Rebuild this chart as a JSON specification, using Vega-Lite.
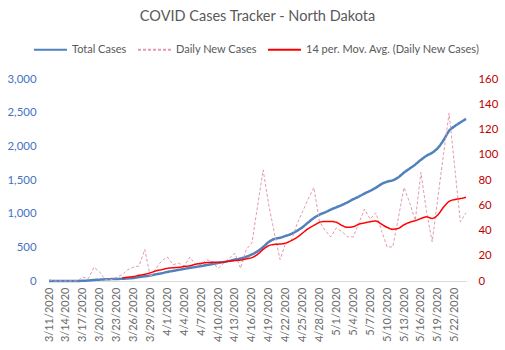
{
  "$schema": "https://vega.github.io/schema/vega-lite/v6.json",
  "width": 417,
  "height": 202,
  "autosize": {"type": "none"},
  "padding": {"left": 49, "top": 79, "right": 39, "bottom": 69},
  "background": "white",
  "title": {"text": "COVID Cases Tracker - North Dakota", "font": "Lato", "fontSize": 14.5, "fontWeight": "normal", "color": "#595959", "anchor": "middle", "offset": 8},
  "config": {"view": {"stroke": null}, "font": "Lato"},
  "data": {"values": [
    {"date": "3/11/2020", "total": 1, "daily": 1, "ma": null},
    {"date": "3/12/2020", "total": 1, "daily": 0, "ma": null},
    {"date": "3/13/2020", "total": 1, "daily": 0, "ma": null},
    {"date": "3/14/2020", "total": 1, "daily": 0, "ma": null},
    {"date": "3/15/2020", "total": 1, "daily": 0, "ma": null},
    {"date": "3/16/2020", "total": 1, "daily": 0, "ma": null},
    {"date": "3/17/2020", "total": 3, "daily": 3, "ma": null},
    {"date": "3/18/2020", "total": 8, "daily": 2, "ma": null},
    {"date": "3/19/2020", "total": 15, "daily": 11, "ma": null},
    {"date": "3/20/2020", "total": 20, "daily": 7, "ma": null},
    {"date": "3/21/2020", "total": 25, "daily": 1, "ma": null},
    {"date": "3/22/2020", "total": 28, "daily": 1, "ma": null},
    {"date": "3/23/2020", "total": 30, "daily": 3, "ma": null},
    {"date": "3/24/2020", "total": 33, "daily": 5, "ma": 2.4},
    {"date": "3/25/2020", "total": 38, "daily": 9, "ma": 3},
    {"date": "3/26/2020", "total": 45, "daily": 11, "ma": 3.5},
    {"date": "3/27/2020", "total": 58, "daily": 12, "ma": 4.5},
    {"date": "3/28/2020", "total": 70, "daily": 25, "ma": 5.3},
    {"date": "3/29/2020", "total": 82, "daily": 3, "ma": 6.5},
    {"date": "3/30/2020", "total": 100, "daily": 10, "ma": 8},
    {"date": "3/31/2020", "total": 115, "daily": 16, "ma": 9},
    {"date": "4/1/2020", "total": 135, "daily": 19, "ma": 10},
    {"date": "4/2/2020", "total": 150, "daily": 13, "ma": 10.5},
    {"date": "4/3/2020", "total": 165, "daily": 14, "ma": 10.8},
    {"date": "4/4/2020", "total": 180, "daily": 12, "ma": 11.5},
    {"date": "4/5/2020", "total": 195, "daily": 19, "ma": 12},
    {"date": "4/6/2020", "total": 208, "daily": 13, "ma": 13.3},
    {"date": "4/7/2020", "total": 222, "daily": 13, "ma": 14},
    {"date": "4/8/2020", "total": 237, "daily": 17, "ma": 14.6},
    {"date": "4/9/2020", "total": 252, "daily": 15, "ma": 14.8},
    {"date": "4/10/2020", "total": 268, "daily": 10, "ma": 14.8},
    {"date": "4/11/2020", "total": 282, "daily": 14, "ma": 15},
    {"date": "4/12/2020", "total": 298, "daily": 18, "ma": 15.8},
    {"date": "4/13/2020", "total": 318, "daily": 22, "ma": 16.2},
    {"date": "4/14/2020", "total": 335, "daily": 10, "ma": 16.6},
    {"date": "4/15/2020", "total": 360, "daily": 25, "ma": 17.5},
    {"date": "4/16/2020", "total": 395, "daily": 30, "ma": 18.5},
    {"date": "4/17/2020", "total": 440, "daily": 59, "ma": 21},
    {"date": "4/18/2020", "total": 505, "daily": 88, "ma": 25},
    {"date": "4/19/2020", "total": 580, "daily": 60, "ma": 28},
    {"date": "4/20/2020", "total": 625, "daily": 38, "ma": 29},
    {"date": "4/21/2020", "total": 642, "daily": 17, "ma": 29.3},
    {"date": "4/22/2020", "total": 670, "daily": 30, "ma": 30},
    {"date": "4/23/2020", "total": 700, "daily": 32, "ma": 32},
    {"date": "4/24/2020", "total": 745, "daily": 45, "ma": 34.5},
    {"date": "4/25/2020", "total": 800, "daily": 55, "ma": 38},
    {"date": "4/26/2020", "total": 870, "daily": 65, "ma": 41.5},
    {"date": "4/27/2020", "total": 935, "daily": 74, "ma": 44},
    {"date": "4/28/2020", "total": 985, "daily": 47, "ma": 46.5},
    {"date": "4/29/2020", "total": 1020, "daily": 40, "ma": 47.2},
    {"date": "4/30/2020", "total": 1060, "daily": 35, "ma": 47.2},
    {"date": "5/1/2020", "total": 1095, "daily": 42, "ma": 46.5},
    {"date": "5/2/2020", "total": 1130, "daily": 39, "ma": 44},
    {"date": "5/3/2020", "total": 1170, "daily": 35, "ma": 42.5},
    {"date": "5/4/2020", "total": 1215, "daily": 35, "ma": 43},
    {"date": "5/5/2020", "total": 1255, "daily": 46, "ma": 45},
    {"date": "5/6/2020", "total": 1300, "daily": 57, "ma": 46},
    {"date": "5/7/2020", "total": 1340, "daily": 49, "ma": 47},
    {"date": "5/8/2020", "total": 1385, "daily": 54, "ma": 47.5},
    {"date": "5/9/2020", "total": 1440, "daily": 40, "ma": 45},
    {"date": "5/10/2020", "total": 1475, "daily": 27, "ma": 42.5},
    {"date": "5/11/2020", "total": 1495, "daily": 27, "ma": 41},
    {"date": "5/12/2020", "total": 1540, "daily": 50, "ma": 41.7},
    {"date": "5/13/2020", "total": 1610, "daily": 74, "ma": 44.5},
    {"date": "5/14/2020", "total": 1670, "daily": 62, "ma": 46.5},
    {"date": "5/15/2020", "total": 1730, "daily": 48, "ma": 47.8},
    {"date": "5/16/2020", "total": 1800, "daily": 86, "ma": 49.5},
    {"date": "5/17/2020", "total": 1860, "daily": 55, "ma": 50.8},
    {"date": "5/18/2020", "total": 1905, "daily": 31, "ma": 49.6},
    {"date": "5/19/2020", "total": 1975, "daily": 66, "ma": 52.3},
    {"date": "5/20/2020", "total": 2090, "daily": 100, "ma": 58.4},
    {"date": "5/21/2020", "total": 2230, "daily": 133, "ma": 63},
    {"date": "5/22/2020", "total": 2300, "daily": 90, "ma": 64.5},
    {"date": "5/23/2020", "total": 2355, "daily": 47, "ma": 65.3},
    {"date": "5/24/2020", "total": 2407, "daily": 54, "ma": 66.3}
  ]},
  "encoding": {
    "x": {
      "field": "date", "type": "ordinal", "sort": null,
      "scale": {"type": "point", "padding": 0},
      "axis": {
        "values": ["3/11/2020","3/14/2020","3/17/2020","3/20/2020","3/23/2020","3/26/2020","3/29/2020","4/1/2020","4/4/2020","4/7/2020","4/10/2020","4/13/2020","4/16/2020","4/19/2020","4/22/2020","4/25/2020","4/28/2020","5/1/2020","5/4/2020","5/7/2020","5/10/2020","5/13/2020","5/16/2020","5/19/2020","5/22/2020"],
        "labelAngle": -90, "labelFontSize": 11, "labelColor": "#6b6b6b", "labelFont": "Lato", "labelOverlap": false,
        "ticks": false, "domainColor": "#D9D9D9", "domainWidth": 1, "grid": false, "title": null, "labelPadding": 6
      }
    }
  },
  "layer": [
    {
      "mark": {"type": "line", "strokeWidth": 2.5, "interpolate": "monotone"},
      "encoding": {
        "y": {"field": "total", "type": "quantitative", "scale": {"domain": [0, 3000]},
          "axis": {"orient": "left", "values": [0,500,1000,1500,2000,2500,3000], "format": ",.0f", "labelColor": "#4472C4", "labelFontSize": 11.4, "labelFont": "Lato", "domain": false, "ticks": false, "grid": false, "title": null, "labelPadding": 13}},
        "color": {"datum": "Total Cases", "type": "nominal",
          "scale": {"domain": ["Total Cases", "Daily New Cases", "14 per. Mov. Avg. (Daily New Cases)"], "range": ["#4F81BD", "#E39AAE", "#FF0000"]},
          "legend": {"title": null, "orient": "none", "legendX": -16, "legendY": -47, "direction": "horizontal", "symbolType": "stroke", "symbolSize": 1089, "symbolStrokeWidth": 2, "labelFontSize": 11, "labelFont": "Lato", "labelColor": "#595959", "labelOffset": 4, "columnPadding": 7, "labelLimit": 400}},
        "strokeDash": {"datum": "Total Cases", "type": "nominal",
          "scale": {"domain": ["Total Cases", "Daily New Cases", "14 per. Mov. Avg. (Daily New Cases)"], "range": [[1, 0], [3, 2], [1, 0]]},
          "legend": {"title": null, "orient": "none", "legendX": -16, "legendY": -47, "direction": "horizontal", "symbolType": "stroke", "symbolSize": 1089, "symbolStrokeWidth": 2, "labelFontSize": 11, "labelFont": "Lato", "labelColor": "#595959", "labelOffset": 4, "columnPadding": 7, "labelLimit": 400}}
      }
    },
    {
      "layer": [
        {
          "mark": {"type": "line", "strokeWidth": 1},
          "encoding": {
            "y": {"field": "daily", "type": "quantitative", "scale": {"domain": [0, 160]},
              "axis": {"orient": "right", "values": [0,20,40,60,80,100,120,140,160], "labelColor": "#C00000", "labelFontSize": 11.4, "labelFont": "Lato", "domain": false, "ticks": false, "grid": false, "title": null, "labelPadding": 12}},
            "color": {"datum": "Daily New Cases", "type": "nominal"},
            "strokeDash": {"datum": "Daily New Cases", "type": "nominal"}
          }
        },
        {
          "mark": {"type": "line", "strokeWidth": 1.5, "interpolate": "monotone"},
          "encoding": {
            "y": {"field": "ma", "type": "quantitative", "scale": {"domain": [0, 160]},
              "axis": {"orient": "right", "values": [0,20,40,60,80,100,120,140,160], "labelColor": "#C00000", "labelFontSize": 11.4, "labelFont": "Lato", "domain": false, "ticks": false, "grid": false, "title": null, "labelPadding": 12}},
            "color": {"datum": "14 per. Mov. Avg. (Daily New Cases)", "type": "nominal"},
            "strokeDash": {"datum": "14 per. Mov. Avg. (Daily New Cases)", "type": "nominal"}
          }
        }
      ]
    }
  ],
  "resolve": {"scale": {"y": "independent"}}
}
